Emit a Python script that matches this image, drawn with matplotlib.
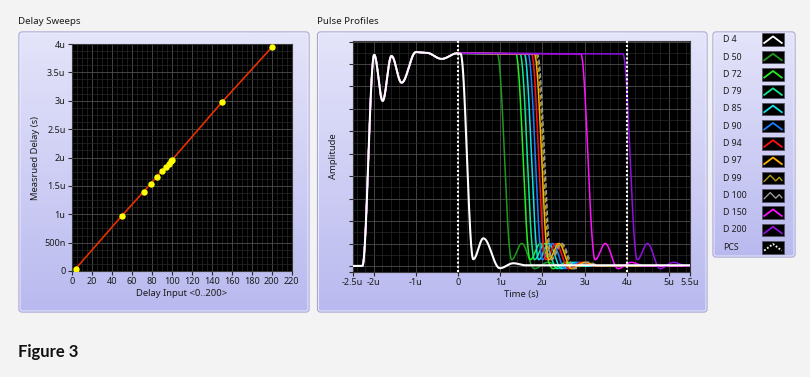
import numpy as np
import matplotlib
matplotlib.use("Agg")
import matplotlib.pyplot as plt
from matplotlib.patches import FancyBboxPatch, Rectangle
from matplotlib.colors import LinearSegmentedColormap
from matplotlib.ticker import FixedLocator, MultipleLocator

plt.rcParams['font.family'] = ['Noto Sans', 'DejaVu Sans']

# ---------------- data ----------------
delay_input = [4, 50, 72, 79, 85, 90, 94, 97, 99, 100, 150, 200]
measured_delay_us = [0.04, 0.97, 1.40, 1.54, 1.66, 1.76, 1.84, 1.89, 1.93, 1.95, 2.97, 3.94]

sweep_xticks = [0, 20, 40, 60, 80, 100, 120, 140, 160, 180, 200, 220]
sweep_yticks_us = [0, 0.5, 1, 1.5, 2, 2.5, 3, 3.5, 4]
sweep_yticklabels = ["0", "500n", "1u", "1.5u", "2u", "2.5u", "3u", "3.5u", "4u"]

series_names = ["D 4", "D 50", "D 72", "D 79", "D 85", "D 90", "D 94",
                "D 97", "D 99", "D 100", "D 150", "D 200"]
series_colors = ["#ffffff", "#1e9a1e", "#22ee22", "#10e890", "#10e0e8", "#1a7cff",
                 "#ff1010", "#ffb000", "#b0a010", "#9a9a9a", "#ff10ff", "#9010e0"]
series_styles = ["-", "-", "-", "-", "-", "-", "-", "-", "--", "--", "-", "-"]
fall_start_us = [0.06, 0.93, 1.37, 1.47, 1.57, 1.66, 1.74, 1.81, 1.85, 1.88, 2.91, 3.91]

# common leading edge (extrema of the pulse profile)
rise_t_us = [-2.5, -2.27, -1.99, -1.79, -1.58, -1.34, -1.0, -0.75, -0.39, -0.02]
rise_amp = [0.0, 0.0, 0.941, 0.736, 0.936, 0.817, 0.953, 0.95, 0.923, 0.948]
plateau_amp = 0.945
# trailing edge extrema, relative to fall start
fall_dt_us = [0.34, 0.58, 0.88, 1.2, 1.5]
fall_amp = [0.028, 0.10, -0.012, 0.016, 0.0]
d4_fall_dt_us = [0.30, 0.54, 0.93, 1.25, 1.54]
d4_fall_amp = [0.03, 0.123, -0.01, 0.012, 0.003]
end_amp = 0.0

pcs_t_us = [0.0, 4.0]
time_ticks_us = [-2.5, -2, -1, 0, 1, 2, 3, 4, 5, 5.5]
time_ticklabels = ["-2.5u", "-2u", "-1u", "0", "1u", "2u", "3u", "4u", "5u", "5.5u"]
amp_ticks = [-0.025, 0, 0.1, 0.2, 0.3, 0.4, 0.5, 0.6, 0.7, 0.8, 0.9, 1.0]

legend_names = series_names + ["PCS"]

# ---------------- figure ----------------
W, H = 810, 377
fig = plt.figure(figsize=(W / 100, H / 100), dpi=100)
fig.patch.set_facecolor("#f3f3f3")

bg = fig.add_axes([0, 0, 1, 1], zorder=0)
bg.set_xlim(0, W)
bg.set_ylim(H, 0)
bg.axis("off")

panel_cmap = LinearSegmentedColormap.from_list("panel", ["#e4e4fa", "#cfcff5", "#b9b9ef"])
grad = np.linspace(0, 1, 256).reshape(-1, 1)


def panel(x0, y0, x1, y1):
    p = FancyBboxPatch((x0, y0), x1 - x0, y1 - y0,
                       boxstyle="round,pad=0,rounding_size=3",
                       facecolor="none", edgecolor="#a6a6d4", lw=0.9, zorder=2)
    bg.add_patch(p)
    im = bg.imshow(grad, cmap=panel_cmap, extent=(x0, x1, y1, y0),
                   aspect="auto", origin="upper", zorder=1, interpolation="bilinear")
    im.set_clip_path(p)
    inner = FancyBboxPatch((x0 + 1, y0 + 1), x1 - x0 - 2, y1 - y0 - 2,
                           boxstyle="round,pad=0,rounding_size=2",
                           facecolor="none", edgecolor="#f2f2ff", lw=0.6, zorder=2)
    bg.add_patch(inner)


panel(19, 32, 309, 312)
panel(317.5, 32, 707, 312)
panel(713, 32, 795, 257)

txt_col = "#1c1c1c"
bg.text(18, 22, "Delay Sweeps", fontsize=7, color=txt_col, va="center", ha="left")
bg.text(317, 22, "Pulse Profiles", fontsize=7, color=txt_col, va="center", ha="left")
bg.text(18, 352, "Figure 3", fontsize=12, fontweight="bold", color="#111111",
        va="center", ha="left", family=["Lato", "DejaVu Sans"])

grid_major = "#4e4e4e"
grid_minor = "#282828"


def style_axes(ax):
    ax.set_facecolor("#000000")
    for s in ax.spines.values():
        s.set_color("#3a3a3a")
        s.set_linewidth(0.8)
    ax.grid(which="major", color=grid_major, lw=0.6)
    ax.grid(which="minor", color=grid_minor, lw=0.5)
    ax.set_axisbelow(True)
    ax.tick_params(which="major", direction="out", length=3, width=0.8,
                   color="#2a2a2a", labelsize=6.5, labelcolor=txt_col, pad=1.5)
    ax.tick_params(which="minor", length=0)


# ---------------- Delay Sweeps ----------------
ax1 = fig.add_axes([71.7 / W, 1 - 271 / H, 220 / W, 227 / H], zorder=3)
style_axes(ax1)
ax1.plot(delay_input, measured_delay_us, color="#e63000", lw=1.2, zorder=3)
ax1.plot(delay_input, measured_delay_us, ls="none", marker="o", ms=3.6,
         mfc="#ffff00", mec="#ffff00", zorder=4)
ax1.set_xlim(0, 220)
ax1.set_ylim(0, 4)
ax1.xaxis.set_major_locator(FixedLocator(sweep_xticks))
ax1.xaxis.set_minor_locator(MultipleLocator(5))
ax1.yaxis.set_major_locator(FixedLocator(sweep_yticks_us))
ax1.yaxis.set_minor_locator(MultipleLocator(0.125))
ax1.set_xticklabels([str(v) for v in sweep_xticks])
ax1.set_yticklabels(sweep_yticklabels)
ax1.set_xlabel("Delay Input <0..200>", fontsize=6.8, color=txt_col, labelpad=2)
ax1.set_ylabel("Measrued Delay (s)", fontsize=6.8, color=txt_col, labelpad=3)

# ---------------- Pulse Profiles ----------------
ax2 = fig.add_axes([352.7 / W, 1 - 272 / H, 337.3 / W, 231.3 / H], zorder=3)
style_axes(ax2)
t = np.linspace(-2.5, 5.5, 2400)


def cosine_path(kt, ka, tt):
    kt = np.asarray(kt, float)
    ka = np.asarray(ka, float)
    idx = np.clip(np.searchsorted(kt, tt, side="right") - 1, 0, len(kt) - 2)
    t0, t1 = kt[idx], kt[idx + 1]
    u = np.clip((tt - t0) / (t1 - t0), 0, 1)
    w = (1 - np.cos(np.pi * u)) / 2
    return ka[idx] + (ka[idx + 1] - ka[idx]) * w


order = list(range(1, len(series_names))) + [0]
for i in order:
    ts = fall_start_us[i]
    if i == 0:
        kt = rise_t_us + [ts] + [ts + d for d in d4_fall_dt_us] + [5.5]
        ka = rise_amp + [plateau_amp] + d4_fall_amp + [d4_fall_amp[-1]]
        lw = 1.5
    else:
        kt = rise_t_us + [ts] + [ts + d for d in fall_dt_us] + [5.5]
        ka = rise_amp + [plateau_amp] + fall_amp + [end_amp]
        lw = 1.1
    y = cosine_path(kt, ka, t)
    ls = series_styles[i]
    kw = dict(dashes=(3, 1.5)) if ls == "--" else {}
    ax2.plot(t, y, color=series_colors[i], lw=lw, ls=ls, zorder=3 + (i == 0), **kw)

for tp in pcs_t_us:
    ax2.axvline(tp, color="white", lw=1.5, ls=(0, (1, 1)), zorder=6)

ax2.set_xlim(-2.5, 5.5)
ax2.set_ylim(-0.027, 1.004)
ax2.xaxis.set_major_locator(FixedLocator(time_ticks_us))
ax2.set_xticklabels(time_ticklabels)
ax2.xaxis.set_minor_locator(MultipleLocator(0.2))
ax2.yaxis.set_major_locator(FixedLocator(amp_ticks))
ax2.yaxis.set_minor_locator(MultipleLocator(0.05))
ax2.set_yticklabels([])
ax2.set_xlabel("Time (s)", fontsize=6.8, color=txt_col, labelpad=2)
ax2.set_ylabel("Amplitude", fontsize=6.8, color=txt_col, labelpad=6)

# ---------------- legend ----------------
row0 = 39.7
dy = 17.3
for k, name in enumerate(legend_names):
    yc = row0 + k * dy
    bg.text(723, yc, name, fontsize=6.3, color=txt_col, va="center", ha="left", zorder=5)
    bx0, bx1 = 761.7, 784.3
    by0, by1 = yc - 6.3, yc + 6.3
    bg.add_patch(Rectangle((bx0, by0), bx1 - bx0, by1 - by0, facecolor="#000000",
                           edgecolor="#555566", lw=0.6, zorder=5))
    if k < len(series_names):
        col = series_colors[k]
        ls = series_styles[k]
        if ls == "--":
            xs = [bx0 + 2.5, bx0 + 8.5, bx0 + 14, bx1 - 5, bx1 - 2.5]
            ys = [by1 - 3, by0 + 3.5, by1 - 3.5, by0 + 5.5, by1 - 4]
            bg.plot(xs, ys, color=col, lw=1.0, zorder=6)
        else:
            bg.plot([bx0 + 2.5, (bx0 + bx1) / 2, bx1 - 2.5], [by1 - 3, by0 + 3, by1 - 3],
                    color=col, lw=1.3, zorder=6)
    else:
        bg.plot([bx0 + 2.5, (bx0 + bx1) / 2, bx1 - 2.5], [by1 - 3, by0 + 3, by1 - 3],
                color="white", lw=1.3, ls=(0, (1, 1)), zorder=6)

fig.savefig("out.png", dpi=100, facecolor=fig.get_facecolor())
